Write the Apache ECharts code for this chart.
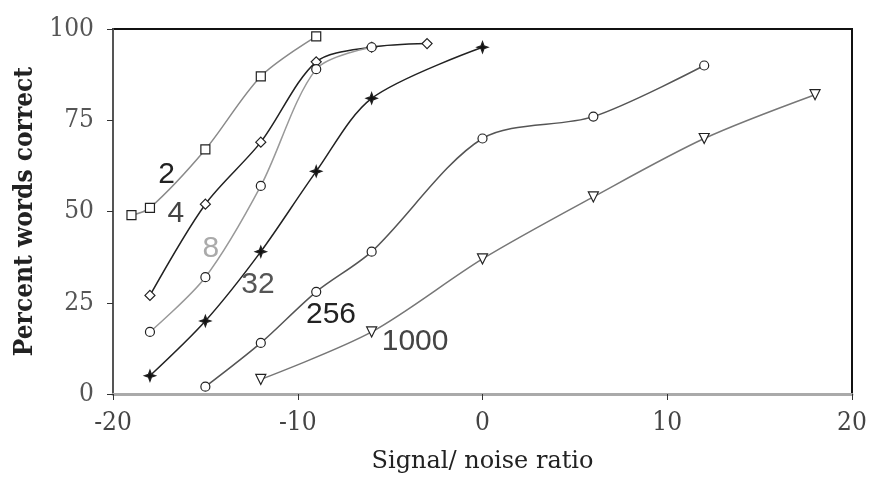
<!DOCTYPE html>
<html>
<head>
<meta charset="utf-8">
<script src="https://cdn.jsdelivr.net/npm/echarts@6/dist/echarts.min.js"></script>
<style>
  html, body { margin: 0; padding: 0; background: #fff; }
  #chart { width: 870px; height: 479px; }
</style>
</head>
<body>
<div id="chart"></div>
<script>
// curves: [snr, percent]
var s2 = [[-19, 49], [-18, 51], [-15, 67], [-12, 87], [-9, 98]];
var s4 = [[-18, 27], [-15, 52], [-12, 69], [-9, 91], [-6, 95], [-3, 96]];
var s8 = [[-18, 17], [-15, 32], [-12, 57], [-9, 89], [-6, 95]];
var s32 = [[-18, 5], [-15, 20], [-12, 39], [-9, 61], [-6, 81], [0, 95]];
var s256 = [[-15, 2], [-12, 14], [-9, 28], [-6, 39], [0, 70], [6, 76], [12, 90]];
var s1000 = [[-12, 4], [-6, 17], [0, 37], [6, 54], [12, 70], [18, 82]];

// curve names and where they sit (data coords)
var labelNames = ['2', '4', '8', '32', '256', '1000'];
var labelAt = [[-17.1, 60.2], [-16.6, 49.3], [-14.7, 39.8], [-12.15, 30], [-8.2, 21.8], [-3.65, 14.4]];
var labelColor = ['#222', '#444', '#aaa', '#555', '#222', '#444'];

var xTicks = [-20, -10, 0, 10, 20];
var yTicks = [0, 25, 50, 75, 100];

var chart = echarts.init(document.getElementById('chart'));

var serif = '"DejaVu Serif Condensed", "Liberation Serif", serif';

function line(name, data, color, symbol, size, rotate) {
  return {
    name: name,
    type: 'line',
    data: data,
    smooth: 0.3,
    symbol: symbol,
    symbolSize: size,
    symbolRotate: rotate || 0,
    lineStyle: { color: color, width: 1.5 },
    itemStyle: { color: '#fff', borderColor: '#222', borderWidth: 1.2 },
    z: 3
  };
}

var star = 'path://M0,-6 L1.6,-1.6 L6,0 L1.6,1.6 L0,6 L-1.6,1.6 L-6,0 L-1.6,-1.6 Z';

var s32line = line('32', s32, '#222', star, 11);
s32line.itemStyle.color = '#111';

chart.setOption({
  animation: false,
  grid: {
    left: 113, right: 18, top: 29, bottom: 83,
    show: true, borderColor: '#111', borderWidth: 2
  },
  xAxis: {
    type: 'value',
    min: -20, max: 20, interval: 10,
    name: 'Signal/ noise ratio',
    nameLocation: 'middle',
    nameGap: 56,
    nameTextStyle: { fontFamily: '"DejaVu Serif", serif', fontSize: 24, color: '#222' },
    axisLine: { onZero: false, lineStyle: { color: '#aaa', width: 3 } },
    axisTick: { show: true, length: 6, lineStyle: { color: '#333' } },
    axisLabel: {
      fontFamily: serif, fontSize: 26, color: '#444', margin: 16,
      customValues: xTicks
    },
    splitLine: { show: false }
  },
  yAxis: {
    type: 'value',
    min: 0, max: 100, interval: 25,
    name: 'Percent words correct',
    nameLocation: 'middle',
    nameGap: 71,
    nameRotate: 90,
    nameTextStyle: { fontFamily: serif, fontSize: 26, color: '#222', fontWeight: 'bold' },
    axisLine: { onZero: false, lineStyle: { color: '#555', width: 2 } },
    axisTick: { show: true, length: 6, lineStyle: { color: '#333' } },
    axisLabel: {
      fontFamily: serif, fontSize: 26, color: '#555', margin: 19,
      customValues: yTicks
    },
    splitLine: { show: false }
  },
  series: [
    line('2', s2, '#8a8a8a', 'rect', 9),
    line('4', s4, '#222', 'diamond', 10),
    line('8', s8, '#999', 'circle', 9),
    s32line,
    line('256', s256, '#555', 'circle', 9),
    line('1000', s1000, '#777', 'triangle', 10, 180)
  ]
});

// curve labels placed through the axes
var texts = labelNames.map(function (n, i) {
  var p = chart.convertToPixel({ gridIndex: 0 }, labelAt[i]);
  return {
    type: 'text',
    x: p[0], y: p[1],
    style: {
      text: n,
      fontFamily: 'Liberation Sans',
      fontSize: 30,
      fill: labelColor[i],
      align: 'center',
      verticalAlign: 'middle'
    },
    z: 10
  };
});
chart.setOption({ graphic: texts });
</script>
</body>
</html>
